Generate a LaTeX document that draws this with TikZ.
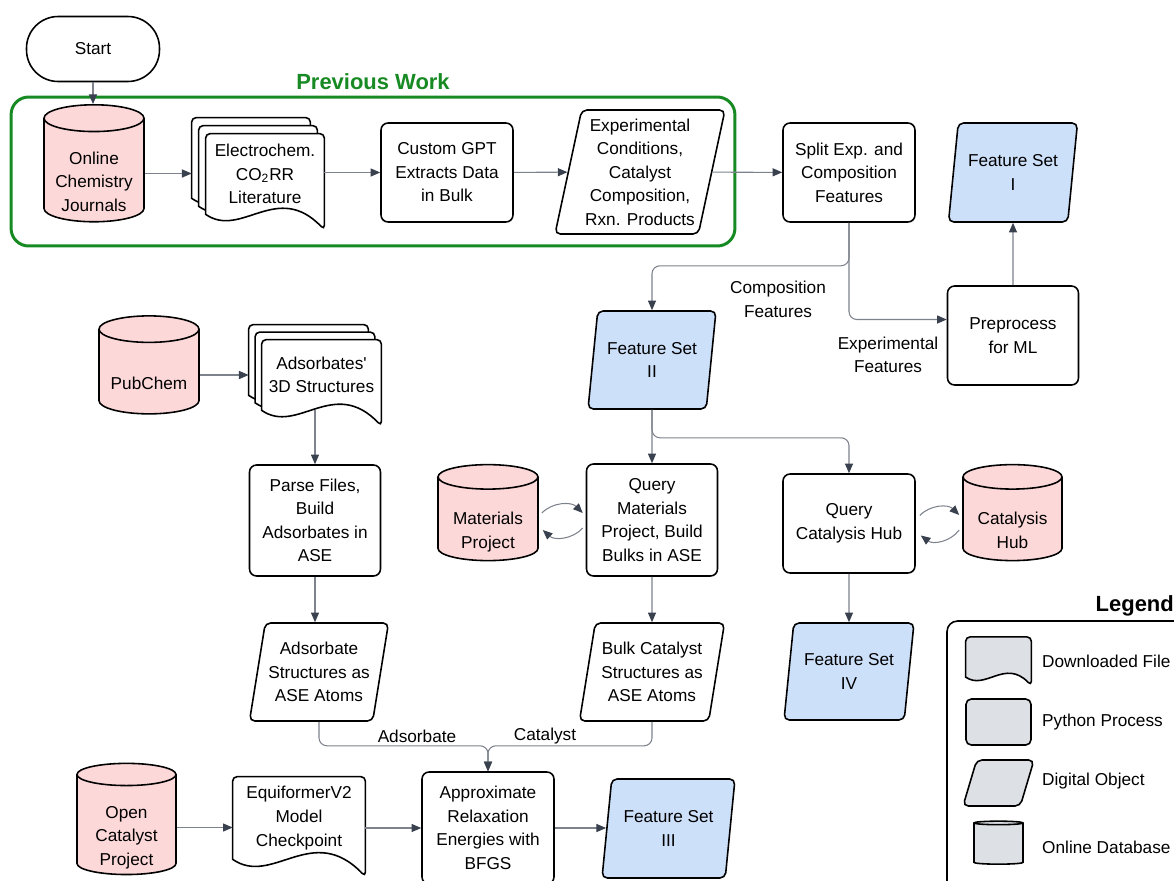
\documentclass[tikz,border=0pt]{standalone}
\usepackage{fontspec}
\setmainfont{Liberation Sans}
\usepackage{tikz}
\usetikzlibrary{shapes.geometric, arrows.meta, calc}
\usetikzlibrary{backgrounds}
\usepackage{xcolor}
\definecolor{dbpink}{RGB}{253,216,216}
\definecolor{featblue}{RGB}{205,224,250}
\definecolor{keygray}{RGB}{221,224,229}
\definecolor{prevgreen}{RGB}{24,138,36}
\definecolor{linegray}{RGB}{125,130,140}
\definecolor{headgray}{RGB}{58,65,78}

\newcommand{\docshape}[2][]{%
	\draw[docline,#1] let \p1=(#2.north west), \p2=(#2.south east), \n1={\x2-\x1}, \n2={0.13*(\x2-\x1)} in
		(\x1,\y2) [rounded corners=2.5pt] -- (\x1,\y1) -- (\x2,\y1) -- (\x2,{\y2-\n2}) [sharp corners]
		.. controls ({\x1+0.6*\n1},{\y2+2.2*\n2}) and ({\x1+0.3*\n1},{\y2-1.6*\n2}) .. (\x1,\y2) -- cycle;}
\newcommand{\dbtext}[1]{\raisebox{-5.5pt}[\height][\depth]{\begin{tabular}{@{}c@{}}#1\end{tabular}}}

\begin{document}
\begin{tikzpicture}[x=0.02cm, y=-0.02cm,
	every node/.style={font=\fontsize{9.8pt}{13.4pt}\selectfont, align=center},
	proc/.style={draw, line width=0.9pt, rounded corners=4pt, fill=white, minimum width=2.64cm, minimum height=1.98cm, inner sep=2pt},
	data/.style={trapezium, trapezium left angle=76, trapezium right angle=104, trapezium stretches body, draw, line width=0.9pt, rounded corners=3pt, fill=white, inner sep=1pt, minimum width=2.6cm, minimum height=1.96cm},
	feat/.style={data, fill=featblue},
	db/.style={cylinder, shape border rotate=90, aspect=0.3, draw, line width=0.9pt, fill=dbpink, minimum width=2cm, minimum height=1.96cm},
	doc/.style={minimum width=2.36cm, minimum height=1.6cm, inner sep=0pt},
	docline/.style={line width=0.9pt, draw=black, fill=white},
	flow/.style={draw=linegray, line width=0.6pt, rounded corners=4.5pt, -{Triangle[length=5.5pt, width=4.6pt, fill=headgray, color=headgray]}}]
				\useasboundingbox (0,0) rectangle (1174,880);
				\clip (0,0) rectangle (1174,880);
				\node[proc, minimum width=2.66cm, minimum height=1.3cm, rounded corners=18pt] (start) at (93,49) {Start};
				\node[font=\bfseries\fontsize{12.5pt}{15pt}\selectfont, text=prevgreen] (prevlabel) at (373,82) {Previous Work};
				\node[draw=prevgreen, line width=1.7pt, rounded corners=10pt, minimum width=14.48cm, minimum height=2.98cm] (prev) at (373,171.5) {};
				\node[db] (jour) at (94,173.5) {\dbtext{Online\\Chemistry\\Journals}};
				\node[doc] (lit1) at (251,158) {};
				\node[doc] (lit2) at (258,166) {};
				\node[doc] (lit) at (265,174) {Electrochem.\\CO\textsubscript{2}RR\\Literature};
				\node[proc] (gpt) at (447,172.5) {Custom GPT\\Extracts Data\\in Bulk};
				\node[data, minimum width=3.4cm, minimum height=2.48cm, inner sep=0pt] (exp) at (640,172) {Experimental\\Conditions,\\Catalyst\\Composition,\\Rxn. Products};
				\node[proc] (split) at (849,172.5) {Split Exp. and\\Composition\\Features};
				\node[feat, minimum width=2.58cm, minimum height=1.98cm] (fs1) at (1013,172.5) {Feature Set\\I};
				\node[proc, minimum width=2.62cm] (pre) at (1013,335.5) {Preprocess\\for ML};
				\node (complabel) at (778,299.5) {Composition\\Features};
				\node (explabel) at (888,355) {Experimental\\Features};
				\node[feat, minimum width=2.56cm] (fs2) at (652,360) {Feature Set\\II};
				\node[db] (pub) at (149,375) {\dbtext{PubChem}};
				\node[doc, minimum width=2.38cm, minimum height=1.4cm] (ads1) at (308.5,360) {};
				\node[doc, minimum width=2.38cm, minimum height=1.4cm] (ads2) at (315,367.5) {};
				\node[doc, minimum width=2.38cm, minimum height=1.4cm] (ads) at (321.5,375) {Adsorbates\textquotesingle\\3D Structures};
				\node[proc, minimum width=2.62cm, minimum height=2.22cm] (parse) at (315,520.5) {Parse Files,\\Build\\Adsorbates in\\ASE};
				\node[db, minimum height=1.92cm] (mp) at (488,522) {\dbtext{Materials\\Project}};
				\node[proc, minimum width=2.62cm, minimum height=2.24cm] (qmp) at (652,520) {Query\\Materials\\Project, Build\\Bulks in ASE};
				\node[proc] (qch) at (849,523.5) {Query\\Catalysis Hub};
				\node[db, minimum width=1.98cm, minimum height=1.92cm] (ch) at (1012.5,522) {\dbtext{Catalysis\\Hub}};
				\node[data, minimum width=2.78cm] (adsa) at (319,672) {Adsorbate\\Structures as\\ASE Atoms};
				\node[data, minimum width=2.9cm] (bulk) at (652,672) {Bulk Catalyst\\Structures as\\ASE Atoms};
				\node[feat, minimum height=1.94cm] (fs4) at (849,671.5) {Feature Set\\IV};
				\node (adslabel) at (417,736) {Adsorbate};
				\node (catlabel) at (545,736) {Catalyst};
				\node[db, minimum width=1.98cm, minimum height=1.94cm] (ocp) at (126.5,827.5) {\dbtext{Open\\Catalyst\\Project}};
				\node[doc, minimum width=2.64cm, minimum height=1.64cm] (eq) at (299,818) {EquiformerV2\\Model\\Checkpoint};
				\node[proc, minimum height=2.24cm] (approx) at (488,828) {Approximate\\Relaxation\\Energies with\\BFGS};
				\node[feat, minimum width=2.66cm, minimum height=1.98cm] (fs3) at (668.5,828.5) {Feature Set\\III};
				\node[font=\bfseries\fontsize{12.5pt}{15pt}\selectfont, anchor=east] (legendtitle) at (1180,606) {Legend};
				\node[draw, line width=0.9pt, rounded corners=6pt, minimum width=5.06cm, minimum height=5.58cm] (legend) at (1073.5,760.5) {};
				\node[doc, minimum width=1.3cm, minimum height=0.79cm] (kfile) at (998.5,657) {};
				\node[proc, fill=keygray, minimum width=1.3cm, minimum height=0.92cm, rounded corners=3pt] (kproc) at (998.5,722) {};
				\node[data, fill=keygray, trapezium left angle=73, trapezium right angle=107, minimum width=1.42cm, minimum height=0.92cm] (kdata) at (998.5,783) {\rule{0pt}{23.5pt}};
				\node[db, fill=keygray, minimum width=0.98cm, minimum height=0.86cm] (kdb) at (998.5,844.5) {};
				\node[anchor=west] (kfiletext) at (1036,661) {Downloaded File};
				\node[anchor=west] (kproctext) at (1036,722) {Python Process};
				\node[anchor=west] (kdatatext) at (1036,781) {Digital Object};
				\node[anchor=west] (kdbtext) at (1036,847) {Online Database};
				\begin{scope}[on background layer]
					\docshape{lit1}
					\docshape{lit2}
					\docshape{lit}
					\docshape{ads1}
					\docshape{ads2}
					\docshape{ads}
					\docshape{eq}
					\docshape[fill=keygray]{kfile}
				\end{scope}
				\draw[flow] (start.south) -- (start.south |- jour.north);
				\draw[flow] (jour.east) -- (jour.east -| lit1.west);
				\draw[flow] (lit.east |- gpt.west) -- (gpt.west);
				\draw[flow] (gpt) -- (exp);
				\draw[flow] (exp) -- (split);
				\draw[flow] (split.south) -- ++(0,43) -| (fs2);
				\draw[flow] (split.south) |- ($(pre.west)+(0,-16)$);
				\draw[flow] (pre) -- (fs1);
				\draw[flow] (fs2) -- (qmp);
				\draw[flow] (fs2.south) -- ++(0,28) -| (qch);
				\draw[flow] ($(mp.east)+(3,-9)$) to[bend left=45] ($(qmp.west)+(-3,-7)$);
				\draw[flow] ($(qmp.west)+(-3,8)$) to[bend left=45] ($(mp.east)+(4,8)$);
				\draw[flow] ($(qch.east)+(4,-8)$) to[bend left=45] ($(ch.west)+(-3,-7)$);
				\draw[flow] ($(ch.west)+(-3,8)$) to[bend left=45] ($(qch.east)+(5,12)$);
				\draw[flow] (pub.east) -- (pub.east -| ads1.west);
				\draw[flow] (parse.north |- ads.south) -- (parse.north);
				\draw[flow] (parse.south) -- (parse.south |- adsa.north);
				\draw[flow] (qmp) -- (bulk);
				\draw[flow] (qch) -- (fs4);
				\draw[flow] (adsa.south) -- ++(0,24) -| (approx.north);
				\draw[flow] (bulk.south) -- ++(0,24) -| (approx.north);
				\draw[flow] (ocp.east) -- (ocp.east -| eq.west);
				\draw[flow] (eq.east |- approx.west) -- (approx.west);
				\draw[flow] (approx.east) -- (approx.east -| fs3.west);
\end{tikzpicture}
\end{document}
